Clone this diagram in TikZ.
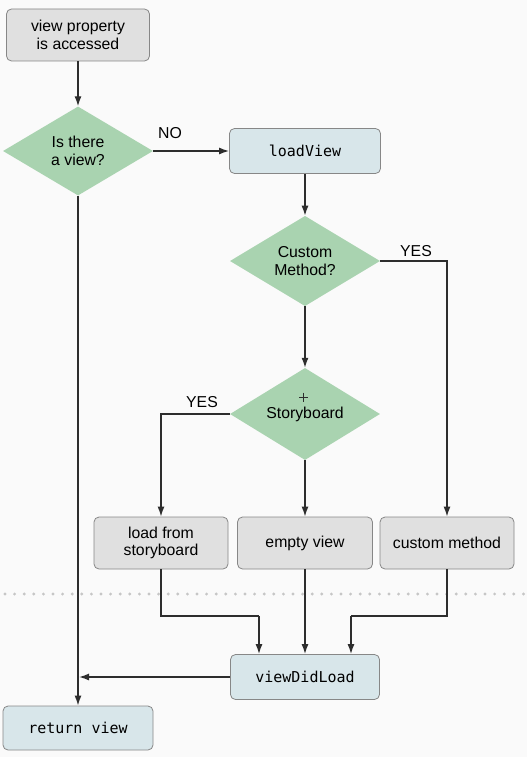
\documentclass[tikz,border=0pt]{standalone}
\usepackage{fontspec}
\setmainfont{Liberation Sans}
\setmonofont{DejaVu Sans Mono}
\usetikzlibrary{shapes.geometric,arrows.meta}

\definecolor{boxgray}{RGB}{224,224,224}
\definecolor{boxblue}{RGB}{216,230,234}
\definecolor{diagreen}{RGB}{169,211,176}
\definecolor{edgegray}{RGB}{135,135,135}
\definecolor{linedark}{RGB}{45,45,45}

\begin{document}
\begin{tikzpicture}[x=1pt,y=-1pt,
    font=\fontsize{15.8}{17.5}\selectfont,
    graybox/.style={draw=edgegray, fill=boxgray, rounded corners=5pt, line width=0.8pt, align=center, inner sep=0pt},
    bluebox/.style={draw=edgegray, fill=boxblue, rounded corners=5pt, line width=0.8pt, inner sep=0pt, font=\fontsize{15}{17}\ttfamily},
    decision/.style={diamond, draw=none, fill=diagreen, inner sep=0pt, align=center, minimum width=150pt, minimum height=89pt},
    arrow/.style={draw=linedark, line width=1.4pt, -{Latex[length=10pt,width=7pt]}},
    plain/.style={draw=linedark, line width=1.4pt}]

        %Background
        \fill [white!98!black] (0,0) rectangle (527,757);

        %Separator
        \draw [gray!45, line width=3.2pt, line cap=round, dash pattern=on 0pt off 9.6pt] (5,594) -- (527,594);

        %Top row
        \node (access) [graybox, minimum width=143pt, minimum height=52pt] at (78,35) {view property\\is accessed};
        \node (isview) [decision] at (78,151) {Is there\\a view?};
        \node (load) [bluebox, minimum width=151pt, minimum height=45pt] at (305,151) {loadView};

        %Decisions
        \node (custom) [decision] at (305,261) {Custom\\Method?};
        \node (story) [decision] at (305,414) {Storyboard};
        \draw [linedark, line width=0.5pt] (299,397) -- (308,397) (303.5,392.5) -- (303.5,401.5);

        %Views
        \node (fromsb) [graybox, minimum width=134pt, minimum height=52pt] at (161,543) {load from\\storyboard};
        \node (empty) [graybox, minimum width=135pt, minimum height=52pt] at (305,543) {empty view};
        \node (method) [graybox, minimum width=134pt, minimum height=52pt] at (447,543) {custom method};

        %Bottom
        \node (didload) [bluebox, minimum width=149pt, minimum height=45pt] at (305,677) {viewDidLoad};
        \node (ret) [bluebox, minimum width=150pt, minimum height=44pt] at (78,728) {return view};
        \coordinate (joinl) at (259,616);
        \coordinate (joinr) at (351,616);

        %Arrows
        \draw [arrow] (access) -- (isview);
        \draw [arrow] (isview.east) -- (load.west);
        \node (no) at (170,133) {NO};
        \draw [arrow] (load) -- (custom);
        \draw [arrow] (custom.east) -| (method.north);
        \node (yesr) at (416,251) {YES};
        \draw [arrow] (custom) -- (story);
        \draw [arrow] (story.west) -| (fromsb.north);
        \node (yesl) at (202,402) {YES};
        \draw [arrow] (story) -- (empty);
        \draw [plain] (fromsb.south) |- (joinl);
        \draw [arrow] (joinl) -- (joinl |- didload.north);
        \draw [arrow] (empty) -- (didload);
        \draw [plain] (method.south) |- (joinr);
        \draw [arrow] (joinr) -- (joinr |- didload.north);
        \draw [arrow] (isview) -- (ret);
        \draw [arrow] (didload.west) -- ([xshift=1pt]isview.south |- didload.west);

\end{tikzpicture}
\end{document}
